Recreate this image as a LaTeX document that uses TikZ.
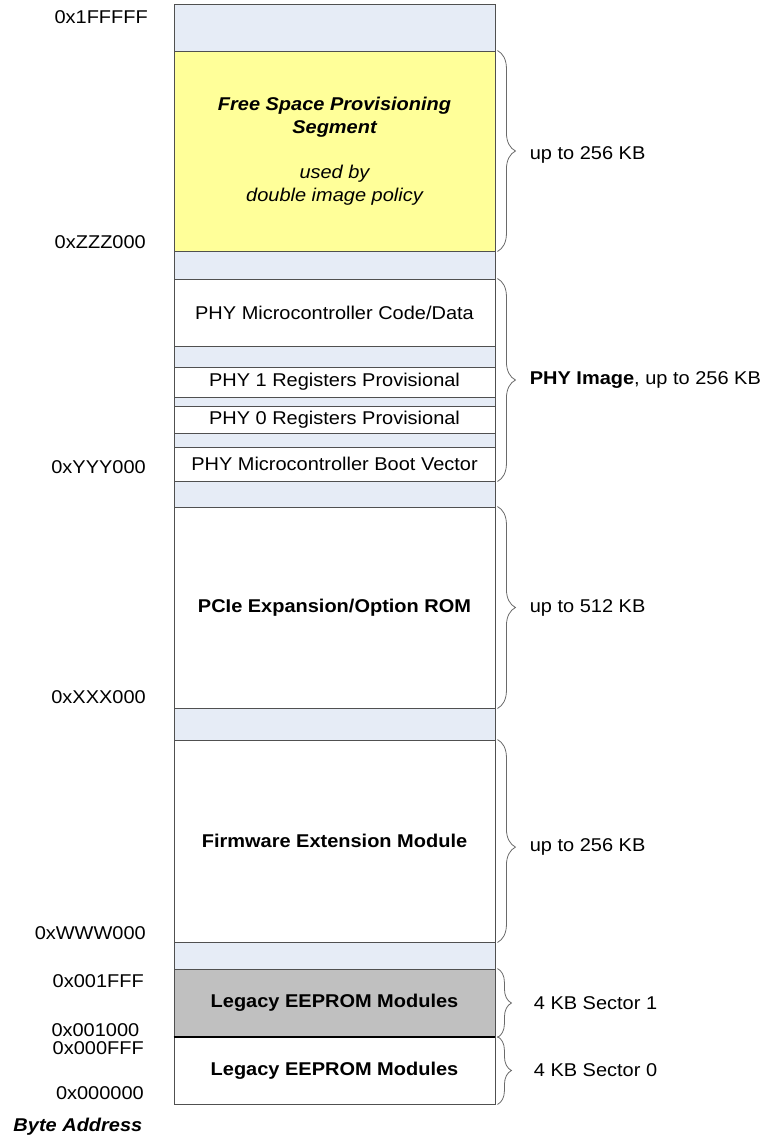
\documentclass[tikz,border=0pt]{standalone}
\usepackage{fontspec}
\setmainfont[FakeStretch=1.08]{Liberation Sans}
\usetikzlibrary{decorations.pathreplacing}
\definecolor{bandblue}{HTML}{E6ECF6}
\definecolor{fspyellow}{HTML}{FFFF99}
\definecolor{legacygray}{HTML}{C0C0C0}
\definecolor{edgegray}{HTML}{505050}

\begin{document}
\begin{tikzpicture}[x=1pt,y=-1pt,
  every node/.style={font=\fontsize{18.5}{22.5}\selectfont},
  seg/.style={draw=edgegray,line width=.9pt,minimum width=321pt,inner sep=0pt,
    align=center,fill=white},
  gap/.style={seg,fill=bandblue},
  addr/.style={anchor=east,inner sep=0pt},
  size/.style={anchor=west,inner sep=0pt},
  brc/.style={draw=edgegray!85,line width=.8pt,decorate,
    decoration={brace,amplitude=18pt}},
  sbrc/.style={brc,decoration={brace,amplitude=14pt}}]
 \useasboundingbox (0,0) rectangle (767,1142);
 % memory column, top to bottom
 \node[gap,minimum height=47pt] (g0) at (334.5,27.5) {};
 \node[seg,fill=fspyellow,minimum height=200pt] (fsp) at (334.5,151)
   {{\bfseries\itshape Free Space Provisioning}\\{\bfseries\itshape Segment}\\[23pt]
    {\itshape used by}\\{\itshape double image policy}};
 \node[gap,minimum height=28pt] (g1) at (334.5,265) {};
 \node[seg,minimum height=67pt] (code) at (334.5,312.5) {PHY Microcontroller Code/Data};
 \node[gap,minimum height=21pt] (g2) at (334.5,356.5) {};
 \node[seg,minimum height=30pt] (phy1) at (334.5,382) {PHY 1 Registers Provisional};
 \node[gap,minimum height=9pt] (g3) at (334.5,401.5) {};
 \node[seg,minimum height=27pt] (phy0) at (334.5,419.5) {PHY 0 Registers Provisional};
 \node[gap,minimum height=14pt] (g4) at (334.5,440) {};
 \node[seg,minimum height=34pt] (boot) at (334.5,464) {PHY Microcontroller Boot Vector};
 \node[gap,minimum height=26pt] (g5) at (334.5,494) {};
 \node[seg,minimum height=201pt] (pcie) at (334.5,607.5) {\textbf{PCIe Expansion/Option ROM}};
 \node[gap,minimum height=32pt] (g6) at (334.5,724) {};
 \node[seg,minimum height=202pt] (fw) at (334.5,841) {\textbf{Firmware Extension Module}};
 \node[gap,minimum height=27pt] (g7) at (334.5,955.5) {};
 \node[seg,fill=legacygray,minimum height=68pt] (leg1) at (334.5,1003) {\textbf{Legacy EEPROM Modules}};
 \node[seg,minimum height=67pt] (leg0) at (334.5,1070.5) {\textbf{Legacy EEPROM Modules}};
 \draw[line width=2pt] (leg1.south west) -- (leg1.south east);
 % byte addresses
 \node[addr] (a1) at (148,17) {0x1FFFFF};
 \node[addr] (a2) at (146,242) {0xZZZ000};
 \node[addr] (a3) at (146,467) {0xYYY000};
 \node[addr] (a4) at (146,697) {0xXXX000};
 \node[addr] (a5) at (146,933) {0xWWW000};
 \node[addr] (a6) at (144,981) {0x001FFF};
 \node[addr] (a7) at (139.5,1030) {0x001000};
 \node[addr] (a8) at (144,1048) {0x000FFF};
 \node[addr] (a9) at (144,1093) {0x000000};
 \node[addr] (ba) at (142.5,1127) {\bfseries\itshape Byte Address};
 % sizes
 \draw[brc] ([xshift=2pt]fsp.north east) -- ([xshift=2pt]fsp.south east)
   node[size,midway,xshift=32pt,yshift=-4pt] (s1) {up to 256 KB};
 \draw[brc] ([xshift=2pt]code.north east) -- ([xshift=2pt]boot.south east)
   node[size,midway,xshift=32pt] (s2) {\textbf{PHY Image}, up to 256 KB};
 \draw[brc] ([xshift=2pt]pcie.north east) -- ([xshift=2pt]pcie.south east)
   node[size,midway,xshift=32pt] (s3) {up to 512 KB};
 \draw[brc,decoration={aspect=.53}] ([xshift=2pt]fw.north east) -- ([xshift=2pt]fw.south east)
   node[size,pos=.53,xshift=32pt] (s4) {up to 256 KB};
 \draw[sbrc] ([xshift=2pt]leg1.north east) -- ([xshift=2pt]leg1.south east)
   node[size,midway,xshift=36pt] (s5) {4 KB Sector 1};
 \draw[sbrc] ([xshift=2pt]leg0.north east) -- ([xshift=2pt]leg0.south east)
   node[size,midway,xshift=36pt] (s6) {4 KB Sector 0};
\end{tikzpicture}
\end{document}
